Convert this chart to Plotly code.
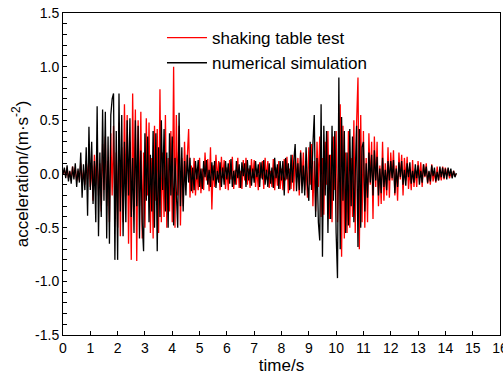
import plotly.graph_objects as go

DT = 0.05

# numerical simulation (black), sampled every DT seconds from t=0
sim_acc = [
    # 0.00-0.95
    0.00, 0.06, -0.04, 0.08, -0.07, 0.03, -0.09, 0.07, -0.05, 0.10,
    -0.12, 0.05, -0.08, 0.20, -0.22, 0.09, -0.15, 0.25, -0.39, 0.44,
    # 1.00-1.95
    -0.15, 0.30, -0.28, 0.12, -0.45, 0.63, -0.58, 0.20, -0.40, 0.60,
    -0.25, 0.58, -0.60, 0.35, -0.65, 0.55, 0.70, 0.75, -0.80, 0.40,
    # 2.00-2.95
    -0.80, 0.75, -0.35, 0.55, -0.58, 0.30, -0.45, 0.50, -0.20, 0.52,
    -0.40, 0.15, -0.55, 0.50, -0.30, 0.45, -0.60, 0.22, -0.45, -0.72,
    # 3.00-3.95
    0.38, -0.25, 0.35, -0.45, 0.18, -0.35, 0.40, -0.50, 0.38, -0.72,
    0.25, -0.40, 0.50, -0.15, 0.42, -0.35, 0.20, -0.50, 0.38, -0.20,
    # 4.00-4.95
    0.35, -0.48, 0.15, -0.25, -0.50, 0.57, -0.30, 0.25, -0.35, 0.12,
    -0.20, 0.18, -0.08, 0.15, -0.16, 0.06, -0.15, 0.12, -0.05, 0.13,
    # 5.00-5.95
    -0.12, 0.05, -0.14, 0.12, -0.03, 0.13, -0.10, 0.04, -0.12, 0.11,
    -0.06, 0.12, -0.13, 0.03, -0.08, 0.11, -0.12, 0.06, -0.10, 0.12,
    # 6.00-6.95
    -0.05, 0.10, -0.09, 0.14, -0.12, 0.03, -0.10, 0.12, -0.04, 0.09,
    -0.13, 0.11, -0.02, 0.10, -0.12, 0.13, -0.06, 0.08, -0.11, 0.05,
    # 7.00-7.95
    -0.08, 0.12, -0.03, 0.09, -0.12, 0.11, -0.05, 0.13, -0.10, 0.04,
    -0.12, 0.10, -0.09, 0.06, -0.13, 0.15, -0.04, 0.09, -0.14, 0.12,
    # 8.00-8.95
    -0.06, 0.12, -0.20, 0.15, -0.05, 0.10, -0.15, 0.18, -0.08, 0.12,
    0.28, -0.16, 0.10, -0.15, 0.20, -0.18, 0.08, -0.20, 0.25, -0.10,
    # 9.00-9.95
    -0.25, 0.30, -0.15, 0.28, 0.55, -0.40, 0.15, -0.45, -0.62, 0.65,
    -0.77, 0.45, -0.20, 0.40, -0.55, 0.18, -0.42, 0.45, -0.25, 0.40,
    # 10.00-10.95
    -0.55, -0.97, 0.90, -0.70, 0.53, -0.25, 0.40, -0.55, 0.20, -0.48,
    0.42, -0.30, 0.35, -0.45, 0.15, 0.45, -0.68, 0.42, -0.50, 0.25,
    # 11.00-11.95
    0.30, -0.35, 0.10, -0.22, 0.20, -0.08, 0.18, -0.20, 0.22, -0.06,
    0.16, -0.20, 0.05, -0.18, 0.15, -0.12, 0.04, -0.15, 0.12, -0.06,
    # 12.00-12.95
    0.12, -0.04, 0.13, -0.18, 0.05, -0.12, 0.11, -0.03, 0.12, -0.10,
    0.04, -0.11, 0.10, -0.03, 0.11, -0.09, 0.03, -0.08, 0.09, -0.04,
    # 13.00-13.95
    0.08, -0.10, 0.03, -0.08, 0.09, -0.02, 0.07, -0.08, 0.03, -0.07,
    0.08, -0.02, 0.06, -0.07, 0.02, -0.06, 0.07, -0.03, 0.06, -0.04,
    # 14.00-14.40
    0.05, -0.05, 0.06, -0.02, 0.05, -0.04, 0.03, -0.03, 0.01,
]

# shaking table test (red), sampled every DT seconds from t=0
test_acc = [
    # 0.00-0.95
    0.00, 0.04, -0.02, 0.06, -0.04, 0.02, -0.06, 0.07, -0.03, 0.06,
    -0.07, 0.03, -0.06, 0.10, -0.08, 0.04, -0.10, 0.12, -0.05, 0.15,
    # 1.00-1.95
    -0.12, 0.08, -0.25, 0.18, -0.10, 0.25, -0.20, 0.10, -0.35, 0.28,
    -0.15, 0.35, -0.30, 0.12, -0.45, 0.38, -0.20, 0.45, -0.40, 0.20,
    # 2.00-2.95
    -0.50, 0.48, -0.58, 0.25, -0.45, 0.65, -0.20, 0.55, -0.65, 0.30,
    -0.80, 0.75, -0.25, 0.60, -0.81, 0.50, -0.30, 0.58, -0.60, 0.20,
    # 3.00-3.95
    -0.50, 0.52, -0.20, 0.48, -0.55, 0.15, -0.60, 0.45, -0.25, 0.42,
    -0.55, 0.79, -0.45, 0.20, -0.40, 0.55, -0.50, 0.15, -0.35, 0.40,
    # 4.00-4.95
    -0.45, 1.00, -0.50, 0.55, -0.20, 0.45, -0.48, 0.15, -0.30, 0.30,
    -0.10, 0.25, 0.42, -0.22, 0.08, -0.18, 0.15, -0.20, 0.05, -0.15,
    # 5.00-5.95
    0.15, -0.18, 0.05, -0.15, 0.20, -0.06, 0.14, -0.16, 0.25, -0.33,
    0.08, -0.12, 0.18, -0.05, 0.12, -0.15, 0.16, -0.04, 0.13, -0.14,
    # 6.00-6.95
    0.06, -0.15, 0.13, -0.05, 0.16, -0.14, 0.04, -0.10, 0.15, -0.13,
    0.03, -0.14, 0.13, -0.06, 0.15, -0.10, 0.05, -0.13, 0.14, -0.04,
    # 7.00-7.95
    0.13, -0.12, 0.05, -0.15, 0.11, -0.04, 0.12, -0.14, 0.15, -0.05,
    0.12, -0.13, 0.03, -0.12, 0.14, -0.15, 0.06, -0.11, 0.12, -0.14,
    # 8.00-8.95
    0.05, -0.15, 0.14, -0.06, 0.16, -0.18, 0.05, -0.14, 0.18, -0.16,
    0.20, -0.08, 0.15, -0.20, 0.22, -0.06, 0.20, -0.15, 0.08, -0.22,
    # 9.00-9.95
    0.25, -0.10, 0.28, -0.30, 0.12, -0.35, 0.30, -0.12, 0.35, -0.40,
    0.15, -0.38, 0.30, -0.10, 0.40, -0.42, 0.18, -0.45, 0.35, -0.15,
    # 10.00-10.95
    0.40, -0.45, 0.15, 0.65, -0.77, 0.45, -0.60, 0.20, -0.55, 0.40,
    -0.50, 0.15, -0.40, 0.50, -0.55, 0.48, 0.90, -0.70, 0.55, -0.45,
    # 11.00-11.95
    0.40, -0.50, 0.15, -0.45, 0.38, -0.10, 0.30, -0.42, 0.35, -0.12,
    0.30, -0.30, 0.08, -0.28, 0.30, -0.25, 0.10, -0.20, 0.25, -0.22,
    # 12.00-12.95
    0.20, -0.06, 0.22, -0.20, 0.08, -0.25, 0.20, -0.05, 0.18, -0.20,
    0.15, -0.06, 0.16, -0.14, 0.04, -0.15, 0.13, -0.12, 0.05, -0.12,
    # 13.00-13.95
    0.12, -0.04, 0.11, -0.12, 0.09, -0.03, 0.10, -0.09, 0.02, -0.10,
    0.09, -0.07, 0.03, -0.08, 0.07, -0.06, 0.02, -0.06, 0.07, -0.05,
    # 14.00-14.40
    0.06, -0.02, 0.05, -0.04, 0.01, -0.03, 0.03, -0.02, 0.00,
]

sim_time = [round(i * DT, 2) for i in range(len(sim_acc))]
test_time = [round(i * DT, 2) for i in range(len(test_acc))]

x_ticks = list(range(0, 17))
y_ticks = [-1.5, -1.0, -0.5, 0.0, 0.5, 1.0, 1.5]

FONT = "Liberation Sans, Arial, sans-serif"

fig = go.Figure()
fig.add_trace(go.Scatter(x=test_time, y=test_acc, mode="lines",
                         name="shaking table test",
                         line=dict(color="#ff0000", width=1.3)))
fig.add_trace(go.Scatter(x=sim_time, y=sim_acc, mode="lines",
                         name="numerical simulation",
                         line=dict(color="#000000", width=1.3)))

fig.update_layout(
    width=503, height=377,
    margin=dict(l=63, r=3, t=13, b=42),
    paper_bgcolor="white", plot_bgcolor="white",
    font=dict(family=FONT, size=14, color="black"),
    showlegend=True,
    legend=dict(x=0.2265, y=0.978, xanchor="left", yanchor="top",
                bgcolor="rgba(0,0,0,0)", borderwidth=0,
                font=dict(size=17), tracegroupgap=0, itemwidth=40),
    xaxis=dict(range=[0, 16], tickvals=x_ticks, ticktext=[str(v) for v in x_ticks],
               ticks="inside", ticklen=4, tickwidth=1, tickcolor="black",
               ticklabeloverflow="allow",
               showline=True, linecolor="black", linewidth=1, mirror=True,
               showgrid=False, zeroline=False, automargin=False,
               title=dict(text="time/s", font=dict(size=17), standoff=2)),
    yaxis=dict(range=[-1.5, 1.5], tickvals=y_ticks,
               ticktext=["%.1f" % v for v in y_ticks],
               ticks="inside", ticklen=4, tickwidth=1, tickcolor="black",
               minor=dict(dtick=0.1, ticks="inside", ticklen=4, tickcolor="black", showgrid=False),
               showline=True, linecolor="black", linewidth=1, mirror=True,
               showgrid=False, zeroline=False, automargin=False,
               title=dict(text="acceleration/(m·s<sup>-2</sup>)", font=dict(size=17), standoff=2)),
)

fig.write_html("out.html",
               config={"displayModeBar": False},
               post_script="document.body.style.margin='0';document.body.style.padding='0';")
